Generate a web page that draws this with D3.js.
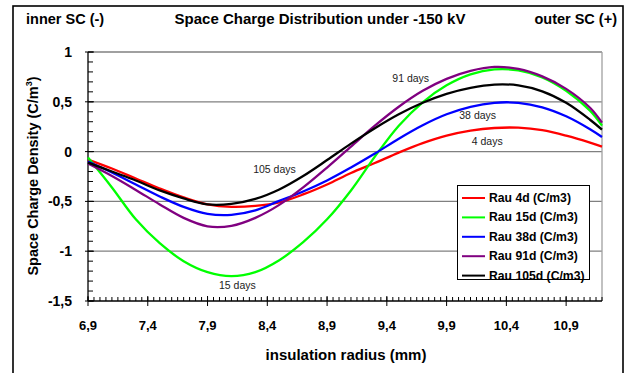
<!DOCTYPE html>
<html>
<head>
<meta charset="utf-8">
<script src="https://cdn.jsdelivr.net/npm/d3@7/dist/d3.min.js"></script>
<style>
  html, body { margin: 0; padding: 0; background: #fff; }
  svg { display: block; font-family: "Liberation Sans", Arial, sans-serif; }
</style>
</head>
<body>
<svg id="chart" width="632" height="373"></svg>
<script>
// Insulation radius (mm) at which each space-charge profile is sampled
const radius = [6.9, 7.1, 7.3, 7.5, 7.7, 7.9, 8.1, 8.3, 8.5, 8.7, 8.9, 9.1, 9.3, 9.5, 9.7, 9.9, 10.1, 10.3, 10.5, 10.7, 10.9, 11.1, 11.2];

// Space charge density (C/m3) after each ageing duration
const rau4d   = [-0.08, -0.17, -0.27, -0.37, -0.46, -0.53, -0.555, -0.545, -0.51, -0.43, -0.33, -0.215, -0.115, -0.01, 0.085, 0.16, 0.21, 0.237, 0.24, 0.215, 0.16, 0.09, 0.05];
const rau15d  = [-0.06, -0.36, -0.68, -0.92, -1.10, -1.21, -1.25, -1.21, -1.09, -0.91, -0.68, -0.39, -0.05, 0.26, 0.495, 0.665, 0.775, 0.825, 0.815, 0.745, 0.61, 0.41, 0.26];
const rau38d  = [-0.10, -0.21, -0.33, -0.45, -0.555, -0.625, -0.635, -0.59, -0.495, -0.40, -0.29, -0.16, -0.02, 0.13, 0.265, 0.375, 0.45, 0.49, 0.49, 0.445, 0.355, 0.225, 0.147];
const rau91d  = [-0.12, -0.245, -0.385, -0.53, -0.665, -0.75, -0.745, -0.665, -0.535, -0.36, -0.16, 0.05, 0.26, 0.45, 0.61, 0.73, 0.81, 0.85, 0.83, 0.755, 0.63, 0.44, 0.29];
const rau105d = [-0.11, -0.20, -0.29, -0.39, -0.47, -0.53, -0.525, -0.475, -0.38, -0.245, -0.085, 0.08, 0.235, 0.375, 0.49, 0.58, 0.64, 0.673, 0.665, 0.605, 0.49, 0.32, 0.22];

const seriesNames  = ["Rau 4d (C/m3)", "Rau 15d (C/m3)", "Rau 38d (C/m3)", "Rau 91d (C/m3)", "Rau 105d (C/m3)"];
const seriesValues = [rau4d, rau15d, rau38d, rau91d, rau105d];
const seriesColors = ["#ff0000", "#00ff00", "#0000ff", "#800080", "#000000"];

// Axis ticks
const xTicks = [6.9, 7.4, 7.9, 8.4, 8.9, 9.4, 9.9, 10.4, 10.9];
const yTicks = [1, 0.5, 0, -0.5, -1, -1.5];

// Curve annotations: text, radius, density
const annotations = [
  ["91 days", 9.6, 0.74],
  ["38 days", 10.16, 0.37],
  ["4 days", 10.24, 0.11],
  ["105 days", 8.46, -0.17],
  ["15 days", 8.15, -1.34]
];

const fmt = v => String(v).replace(".", ",");

const svg = d3.select("#chart");
const plot = { left: 88, right: 602, top: 52, bottom: 301 };

const x = d3.scaleLinear().domain([6.9, 11.2]).range([plot.left, plot.right]);
const y = d3.scaleLinear().domain([-1.5, 1]).range([plot.bottom, plot.top]);

// Outer frame
svg.append("rect")
  .attr("x", 13).attr("y", 6).attr("width", 610).attr("height", 380)
  .attr("fill", "none").attr("stroke", "#000").attr("stroke-width", 1.6);

// Horizontal grid lines and plot border
const gridVals = [1, 0.5, 0, -0.5, -1];
svg.append("g").selectAll("line").data(gridVals).join("line")
  .attr("x1", plot.left).attr("x2", plot.right)
  .attr("y1", d => y(d)).attr("y2", d => y(d))
  .attr("stroke", "#808080").attr("stroke-width", 1.3);
svg.append("line")
  .attr("x1", plot.right).attr("x2", plot.right)
  .attr("y1", plot.top).attr("y2", plot.bottom)
  .attr("stroke", "#a0a0a0").attr("stroke-width", 1.3);

// Y axis: minor ticks every 0.1 pointing inward, major ticks crossing
const yMinor = d3.range(-15, 11).map(i => i / 10);
const yAxisG = svg.append("g");
yAxisG.append("line")
  .attr("x1", plot.left).attr("x2", plot.left)
  .attr("y1", plot.top).attr("y2", plot.bottom)
  .attr("stroke", "#000").attr("stroke-width", 1.3);
yAxisG.selectAll("line.minor").data(yMinor).join("line").attr("class", "minor")
  .attr("x1", plot.left).attr("x2", plot.left + 5)
  .attr("y1", d => y(d)).attr("y2", d => y(d))
  .attr("stroke", "#000").attr("stroke-width", 1);
yAxisG.selectAll("line.major").data(yTicks).join("line").attr("class", "major")
  .attr("x1", plot.left - 3).attr("x2", plot.left + 6)
  .attr("y1", d => y(d)).attr("y2", d => y(d))
  .attr("stroke", "#000").attr("stroke-width", 1);
yAxisG.selectAll("text").data(yTicks).join("text")
  .attr("x", plot.left - 16).attr("y", d => y(d) + 5)
  .attr("text-anchor", "end")
  .attr("font-size", 14).attr("font-weight", "bold")
  .text(d => fmt(d));

// X axis: minor ticks every 0.05 pointing inward, major ticks crossing
const xMinor = d3.range(0, 87).map(i => 6.9 + i * 0.05);
const xAxisG = svg.append("g");
xAxisG.append("line")
  .attr("x1", plot.left).attr("x2", plot.right)
  .attr("y1", plot.bottom).attr("y2", plot.bottom)
  .attr("stroke", "#000").attr("stroke-width", 1.3);
xAxisG.selectAll("line.minor").data(xMinor).join("line").attr("class", "minor")
  .attr("x1", d => x(d)).attr("x2", d => x(d))
  .attr("y1", plot.bottom - 4).attr("y2", plot.bottom)
  .attr("stroke", "#000").attr("stroke-width", 1);
xAxisG.selectAll("line.major").data(xTicks).join("line").attr("class", "major")
  .attr("x1", d => x(d)).attr("x2", d => x(d))
  .attr("y1", plot.bottom - 5).attr("y2", plot.bottom + 5)
  .attr("stroke", "#000").attr("stroke-width", 1);
xAxisG.selectAll("text").data(xTicks).join("text")
  .attr("x", d => x(d)).attr("y", plot.bottom + 29)
  .attr("text-anchor", "middle")
  .attr("font-size", 13).attr("font-weight", "bold")
  .text(d => fmt(d));

// Series curves
const line = d3.line()
  .x((d, i) => x(radius[i]))
  .y(d => y(d))
  .curve(d3.curveCatmullRom.alpha(0.5));

svg.append("g").selectAll("path").data(seriesValues).join("path")
  .attr("d", d => line(d))
  .attr("fill", "none")
  .attr("stroke", (d, i) => seriesColors[i])
  .attr("stroke-width", 2.3);

// Curve annotations
svg.append("g").selectAll("text").data(annotations).join("text")
  .attr("x", d => x(d[1])).attr("y", d => y(d[2]) + 4)
  .attr("text-anchor", "middle")
  .attr("font-size", 10.5).attr("fill", "#222")
  .text(d => d[0]);

// Legend
const lg = svg.append("g");
lg.append("rect")
  .attr("x", 457.5).attr("y", 185.5).attr("width", 132).attr("height", 94)
  .attr("fill", "#fff").attr("stroke", "#000").attr("stroke-width", 1);
seriesNames.forEach((name, i) => {
  const ly = 198 + i * 19.4;
  lg.append("line")
    .attr("x1", 462).attr("x2", 485).attr("y1", ly).attr("y2", ly)
    .attr("stroke", seriesColors[i]).attr("stroke-width", 2);
  lg.append("text")
    .attr("x", 489).attr("y", ly + 4)
    .attr("font-size", 12.2).attr("font-weight", "bold")
    .text(name);
});

// Titles
svg.append("text")
  .attr("x", 320).attr("y", 24).attr("text-anchor", "middle")
  .attr("font-size", 15).attr("font-weight", "bold")
  .text("Space Charge Distribution under -150 kV");
svg.append("text")
  .attr("x", 26).attr("y", 24)
  .attr("font-size", 14.5).attr("font-weight", "bold")
  .text("inner SC (-)");
svg.append("text")
  .attr("x", 617).attr("y", 24).attr("text-anchor", "end")
  .attr("font-size", 14.5).attr("font-weight", "bold")
  .text("outer SC (+)");

// Axis titles
svg.append("text")
  .attr("x", 346).attr("y", 360).attr("text-anchor", "middle")
  .attr("font-size", 15).attr("font-weight", "bold")
  .text("insulation radius (mm)");

const yTitle = svg.append("text")
  .attr("transform", "translate(38,176) rotate(-90)")
  .attr("text-anchor", "middle")
  .attr("font-size", 14.5).attr("font-weight", "bold");
yTitle.append("tspan").text("Space Charge Density (C/m");
yTitle.append("tspan").attr("font-size", 9).attr("dy", -6).text("3");
yTitle.append("tspan").attr("dy", 6).text(")");
</script>
</body>
</html>
